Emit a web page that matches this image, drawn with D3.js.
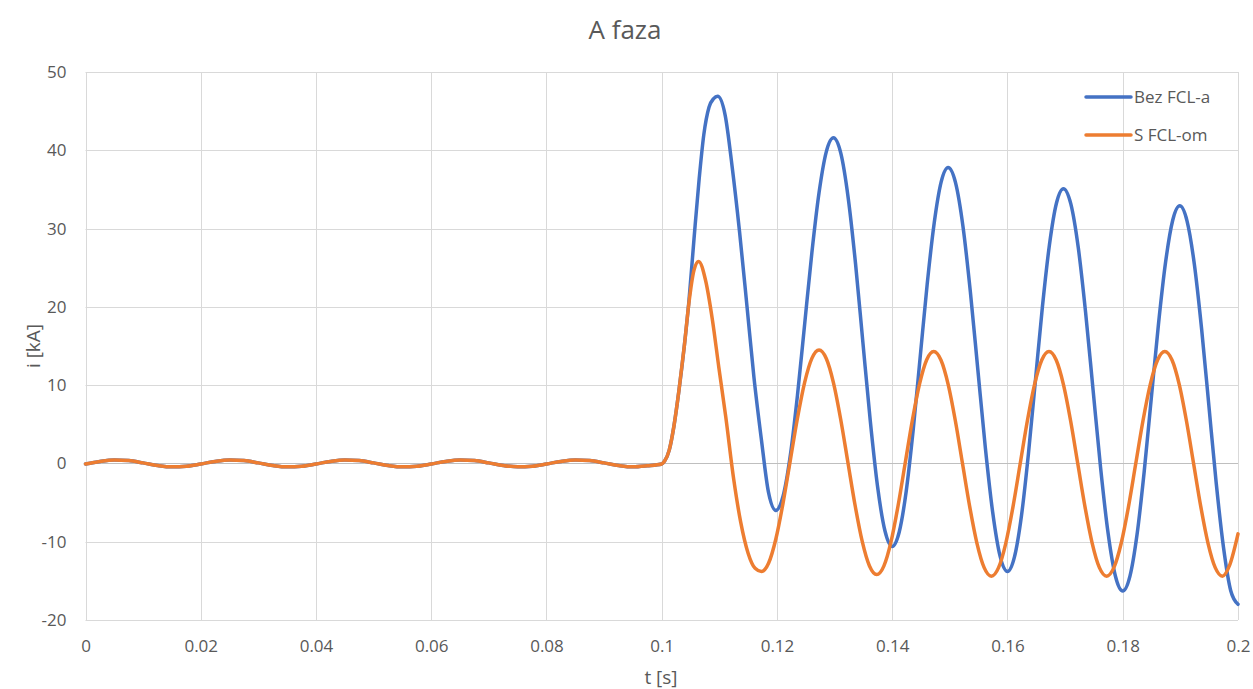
<!DOCTYPE html>
<html>
<head>
<meta charset="utf-8">
<script src="https://cdn.jsdelivr.net/npm/d3@7"></script>
<style>
  html, body { margin: 0; padding: 0; background: #ffffff; }
  svg { display: block; font-family: "Open Sans", "Noto Sans", sans-serif; }
</style>
</head>
<body>
<svg id="chart" width="1253" height="689"></svg>
<script>
// ---------------- DATA ----------------
const chartTitle = "A faza";
const xAxisTitle = "t [s]";
const yAxisTitle = "i [kA]";
const seriesNames = ["Bez FCL-a", "S FCL-om"];
const xTicks = [0, 0.02, 0.04, 0.06, 0.08, 0.1, 0.12, 0.14, 0.16, 0.18, 0.2];
const xTickLabels = ["0", "0.02", "0.04", "0.06", "0.08", "0.1", "0.12", "0.14", "0.16", "0.18", "0.2"];
const yTicks = [-20, -10, 0, 10, 20, 30, 40, 50];
const yTickLabels = ["-20", "-10", "0", "10", "20", "30", "40", "50"];

// pre-fault (shared by both series), t in s, i in kA
const tPre = [0, 0.0025, 0.005, 0.0075, 0.01, 0.0125, 0.015, 0.0175,
  0.02, 0.0225, 0.025, 0.0275, 0.03, 0.0325, 0.035, 0.0375,
  0.04, 0.0425, 0.045, 0.0475, 0.05, 0.0525, 0.055, 0.0575,
  0.06, 0.0625, 0.065, 0.0675, 0.07, 0.0725, 0.075, 0.0775,
  0.08, 0.0825, 0.085, 0.0875, 0.09, 0.0925, 0.095, 0.0975];
const iPre = [-0.07, 0.26, 0.44, 0.36, 0.07, -0.26, -0.44, -0.36,
  -0.07, 0.26, 0.44, 0.36, 0.07, -0.26, -0.44, -0.36,
  -0.07, 0.26, 0.44, 0.36, 0.07, -0.26, -0.44, -0.36,
  -0.07, 0.26, 0.44, 0.36, 0.07, -0.26, -0.44, -0.36,
  -0.07, 0.26, 0.44, 0.36, 0.07, -0.26, -0.44, -0.30];

// "Bez FCL-a" after fault
const tBlue = [0.1, 0.1005, 0.1013, 0.1021, 0.103, 0.1039, 0.1047, 0.1056, 0.1065, 0.1073, 0.1082, 0.109,
  0.1097, 0.111, 0.1122, 0.1135, 0.1148, 0.116, 0.1173, 0.1185,
  0.1198, 0.12105, 0.1223, 0.12355, 0.1248, 0.12605, 0.1273, 0.12855,
  0.1298, 0.13108, 0.13235, 0.13363, 0.1349, 0.13618, 0.13745, 0.13873,
  0.14, 0.14121, 0.14243, 0.14364, 0.14485, 0.14606, 0.14728, 0.14849,
  0.1497, 0.15099, 0.15228, 0.15356, 0.15485, 0.15614, 0.15743, 0.15871,
  0.16, 0.16121, 0.16243, 0.16364, 0.16485, 0.16606, 0.16728, 0.16849,
  0.1697, 0.17099, 0.17228, 0.17356, 0.17485, 0.17614, 0.17743, 0.17871,
  0.18, 0.18124, 0.18248, 0.18371, 0.18495, 0.18619, 0.18743, 0.18866,
  0.1899, 0.19116, 0.19243, 0.19369, 0.19495, 0.19621, 0.19748, 0.19874, 0.2];
const iBlue = [-0.07, 0.3, 1.7, 4.7, 9.4, 14.9, 20.6, 28.7, 36.4, 42.0, 45.5, 46.6,
  46.9, 44.5, 38.0, 29.6, 20.0, 11.0, 3.0, -3.6,
  -6.0, -4.2, 0.97, 8.7, 17.8, 26.9, 34.6, 39.8,
  41.6, 39.6, 33.95, 25.5, 15.5, 5.5, -2.95, -8.6,
  -10.6, -8.76, -3.51, 4.33, 13.6, 22.87, 30.71, 35.96,
  37.8, 35.84, 30.24, 21.88, 12.0, 2.12, -6.24, -11.84,
  -13.8, -11.94, -6.64, 1.29, 10.65, 20.01, 27.94, 33.24,
  35.1, 33.15, 27.57, 19.24, 9.4, -0.44, -8.77, -14.35,
  -16.3, -14.43, -9.09, -1.12, 8.3, 17.72, 25.69, 31.03,
  32.9, 30.96, 25.41, 17.14, 7.35, -2.44, -10.71, -16.26, -18.0];

// "S FCL-om" after fault
const tOrange = [0.1, 0.1005, 0.1013, 0.1021, 0.103, 0.1039, 0.1047, 0.1056,
  0.1064, 0.1076, 0.1088, 0.1099, 0.1111, 0.1125, 0.1137, 0.115, 0.1162,
  0.1173, 0.11855, 0.1198, 0.12105, 0.1223, 0.12355, 0.1248, 0.12605,
  0.1273, 0.12855, 0.1298, 0.13105, 0.1323, 0.13355, 0.1348, 0.13605,
  0.1373, 0.13854, 0.13978, 0.14101, 0.14225, 0.14349, 0.14473, 0.14596,
  0.1472, 0.14845, 0.1497, 0.15095, 0.1522, 0.15345, 0.1547, 0.15595,
  0.1572, 0.15845, 0.1597, 0.16095, 0.1622, 0.16345, 0.1647, 0.16595,
  0.1672, 0.16845, 0.1697, 0.17095, 0.1722, 0.17345, 0.1747, 0.17595,
  0.1772, 0.17846, 0.17973, 0.18099, 0.18225, 0.18351, 0.18478, 0.18604,
  0.1873, 0.18855, 0.1898, 0.19105, 0.1923, 0.19355, 0.1948, 0.19605,
  0.1973, 0.19855, 0.2];
const iOrange = [-0.07, 0.3, 1.7, 4.7, 9.4, 14.9, 20.4, 24.7,
  25.8, 23.4, 18.3, 12.3, 6.0, -2.1, -7.5, -11.5, -13.4,
  -13.8, -12.72, -9.65, -5.07, 0.35, 5.77, 10.35, 13.42,
  14.5, 13.41, 10.3, 5.65, 0.15, -5.35, -10.0, -13.11,
  -14.2, -13.12, -10.03, -5.41, 0.05, 5.51, 10.13, 13.22,
  14.3, 13.21, 10.1, 5.45, -0.05, -5.55, -10.2, -13.31,
  -14.4, -13.31, -10.2, -5.55, -0.05, 5.45, 10.1, 13.21,
  14.3, 13.21, 10.1, 5.45, -0.05, -5.55, -10.2, -13.31,
  -14.4, -13.31, -10.2, -5.55, -0.05, 5.45, 10.1, 13.21,
  14.3, 13.21, 10.1, 5.45, -0.05, -5.55, -10.2, -13.31,
  -14.4, -13.0, -9.0];

const seriesColors = ["#4472C4", "#ED7D31"];

// ---------------- CHART ----------------
const svg = d3.select("#chart");
const plot = { left: 85.5, right: 1238, top: 72, bottom: 620 };

const x = d3.scaleLinear().domain([0, 0.2]).range([plot.left, plot.right]);
const y = d3.scaleLinear().domain([-20, 50]).range([plot.bottom, plot.top]);

const textColor = "#595959";
const gridColor = "#d9d9d9";
const fontFam = "'Open Sans', 'Noto Sans', sans-serif";

// gridlines
const g = svg.append("g");
g.selectAll("line.vgrid").data(xTicks).enter().append("line")
  .attr("x1", d => Math.round(x(d)) + 0.5).attr("x2", d => Math.round(x(d)) + 0.5)
  .attr("y1", plot.top).attr("y2", plot.bottom)
  .attr("stroke", gridColor).attr("stroke-width", 1);
g.selectAll("line.hgrid").data(yTicks).enter().append("line")
  .attr("x1", plot.left).attr("x2", plot.right)
  .attr("y1", d => Math.round(y(d)) + 0.5).attr("y2", d => Math.round(y(d)) + 0.5)
  .attr("stroke", d => d === 0 ? "#bfbfbf" : gridColor).attr("stroke-width", 1);

// axes (labels only, Excel-like)
const xAxis = d3.axisBottom(x).tickValues(xTicks).tickSize(0).tickPadding(0)
  .tickFormat((d, i) => xTickLabels[i]);
svg.append("g").attr("transform", `translate(0,${plot.bottom + 20})`).call(xAxis)
  .call(s => s.select(".domain").remove())
  .selectAll("text").attr("fill", textColor).attr("font-size", 17)
  .attr("font-family", fontFam);

const yAxis = d3.axisLeft(y).tickValues(yTicks).tickSize(0).tickPadding(0)
  .tickFormat((d, i) => yTickLabels[i]);
svg.append("g").attr("transform", `translate(${plot.left - 19},0)`).call(yAxis)
  .call(s => s.select(".domain").remove())
  .selectAll("text").attr("fill", textColor).attr("font-size", 17)
  .attr("font-family", fontFam);

// titles
svg.append("text").attr("x", 625).attr("y", 39).attr("text-anchor", "middle")
  .attr("fill", textColor).attr("font-size", 26).text(chartTitle);
svg.append("text").attr("x", 661).attr("y", 684).attr("text-anchor", "middle")
  .attr("fill", textColor).attr("font-size", 19).text(xAxisTitle);
svg.append("text").attr("transform", "translate(40,346) rotate(-90)")
  .attr("text-anchor", "middle").attr("fill", textColor).attr("font-size", 19).text(yAxisTitle);

// series
const blue = tPre.map((t, i) => [t, iPre[i]]).concat(tBlue.map((t, i) => [t, iBlue[i]]));
const orange = tPre.map((t, i) => [t, iPre[i]]).concat(tOrange.map((t, i) => [t, iOrange[i]]));

const line = d3.line().x(d => x(d[0])).y(d => y(d[1])).curve(d3.curveMonotoneX);
[blue, orange].forEach((data, k) => {
  svg.append("path").datum(data).attr("d", line)
    .attr("fill", "none").attr("stroke", seriesColors[k])
    .attr("stroke-width", 3.5).attr("stroke-linejoin", "round").attr("stroke-linecap", "round");
});

// legend
const leg = svg.append("g");
seriesNames.forEach((name, k) => {
  const ly = 97 + k * 38;
  leg.append("line").attr("x1", 1086).attr("x2", 1131).attr("y1", ly).attr("y2", ly)
    .attr("stroke", seriesColors[k]).attr("stroke-width", 3.5).attr("stroke-linecap", "round");
  leg.append("text").attr("x", 1134).attr("y", ly + 6).attr("fill", textColor)
    .attr("font-size", 17).attr("font-family", fontFam).text(name);
});
</script>
</body>
</html>
